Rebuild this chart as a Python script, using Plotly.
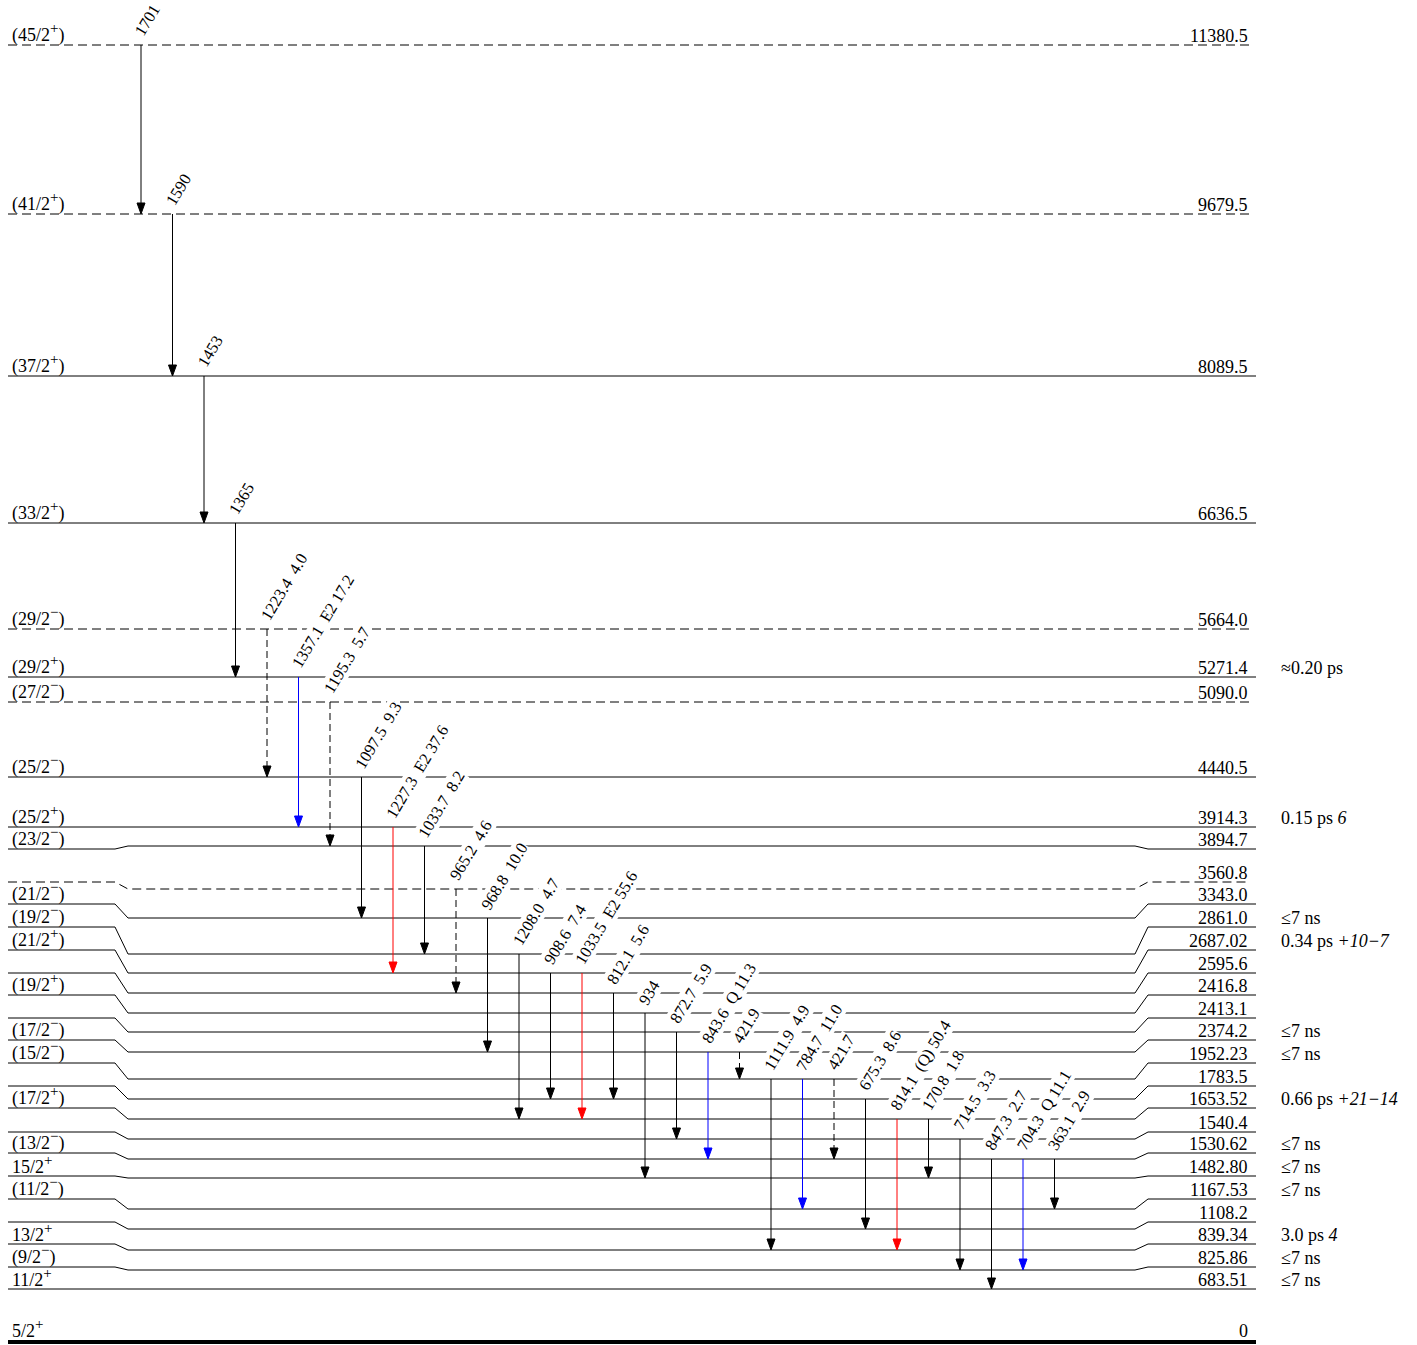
import plotly.graph_objects as go

# ---------------- data ----------------
level_energy = ["11380.5", "9679.5", "8089.5", "6636.5", "5664.0", "5271.4", "5090.0",
                "4440.5", "3914.3", "3894.7", "3560.8", "3343.0", "2861.0", "2687.02",
                "2595.6", "2416.8", "2413.1", "2374.2", "1952.23", "1783.5", "1653.52",
                "1540.4", "1530.62", "1482.80", "1167.53", "1108.2", "839.34", "825.86",
                "683.51", "0"]
level_spin = ["(45/2<sup>+</sup>)", "(41/2<sup>+</sup>)", "(37/2<sup>+</sup>)", "(33/2<sup>+</sup>)",
              "(29/2<sup>−</sup>)", "(29/2<sup>+</sup>)", "(27/2<sup>−</sup>)", "(25/2<sup>−</sup>)",
              "(25/2<sup>+</sup>)", "(23/2<sup>−</sup>)", "", "(21/2<sup>−</sup>)",
              "(19/2<sup>−</sup>)", "(21/2<sup>+</sup>)", "", "(19/2<sup>+</sup>)", "",
              "(17/2<sup>−</sup>)", "(15/2<sup>−</sup>)", "", "(17/2<sup>+</sup>)", "",
              "(13/2<sup>−</sup>)", "15/2<sup>+</sup>", "(11/2<sup>−</sup>)", "",
              "13/2<sup>+</sup>", "(9/2<sup>−</sup>)", "11/2<sup>+</sup>", "5/2<sup>+</sup>"]
level_halflife = ["", "", "", "", "", "≈0.20 ps", "", "", "0.15 ps <i>6</i>", "", "", "",
                  "≤7 ns", "0.34 ps <i>+10−7</i>", "", "", "", "≤7 ns", "≤7 ns", "",
                  "0.66 ps <i>+21−14</i>", "", "≤7 ns", "≤7 ns", "≤7 ns", "", "3.0 ps <i>4</i>",
                  "≤7 ns", "≤7 ns", ""]
level_tentative = ["11380.5", "9679.5", "5664.0", "5090.0", "3560.8"]

gamma_from = ["11380.5", "9679.5", "8089.5", "6636.5", "5664.0", "5271.4", "5090.0", "4440.5",
              "3914.3", "3894.7", "3560.8", "3343.0", "2861.0", "2687.02", "2687.02", "2595.6",
              "2416.8", "2413.1", "2374.2", "2374.2", "1952.23", "1952.23", "1952.23", "1783.5",
              "1653.52", "1653.52", "1540.4", "1530.62", "1530.62", "1530.62"]
gamma_to = ["9679.5", "8089.5", "6636.5", "5271.4", "4440.5", "3914.3", "3894.7", "3343.0",
            "2687.02", "2861.0", "2595.6", "2374.2", "1653.52", "1783.5", "1653.52", "1783.5",
            "1482.80", "1540.4", "1530.62", "1952.23", "839.34", "1167.53", "1530.62", "1108.2",
            "839.34", "1482.80", "825.86", "683.51", "825.86", "1167.53"]
gamma_label = ["1701", "1590", "1453", "1365", "1223.4  4.0", "1357.1  E2 17.2", "1195.3  5.7",
               "1097.5  9.3", "1227.3  E2 37.6", "1033.7  8.2", "965.2  4.6", "968.8  10.0",
               "1208.0  4.7", "908.6  7.4", "1033.5  E2 55.6", "812.1  5.6", "934",
               "872.7  5.9", "843.6  Q 11.3", "421.9", "1111.9  4.9", "784.7  11.0", "421.7",
               "675.3  8.6", "814.1  (Q) 50.4", "170.8  1.8", "714.5  3.3", "847.3  2.7",
               "704.3  Q 11.1", "363.1  2.9"]
gamma_tentative = [False, False, False, False, True, False, True, False, False, False, True,
                   False, False, False, False, False, False, False, False, True, False, False,
                   True, False, False, False, False, False, False, False]

# ---------------- layout / style (drawing positions, not data) ----------------
level_y_side = [45, 214, 376, 523, 629, 677, 702, 777, 827, 849, 882, 904, 927, 950, 973, 995,
                1018, 1040, 1063, 1086, 1108, 1132, 1153, 1176, 1199, 1222, 1244, 1267, 1289, 1342]
level_y_mid = [45, 214, 376, 523, 629, 677, 702, 777, 827, 846, 889, 918, 954, 973, 993, 1013,
               1032, 1052, 1079, 1099, 1119, 1139, 1159, 1178, 1209, 1229, 1250, 1270, 1289, 1342]
gamma_color = ["black"] * 30
for i in (5, 18, 21, 28):
    gamma_color[i] = "#0000ff"
for i in (8, 14, 24):
    gamma_color[i] = "#ff0000"

X0, K1A, K1B, K2A, K2B, X1 = 8, 115, 128, 1135, 1148, 1256
GX0, GDX = 141, 31.5
HEAD_L, HEAD_W = 11, 4
FONT = "Liberation Serif, Times New Roman, serif"
W, H = 1417, 1345


def big_sup(s):
    return s.replace("<sup>", "<sup><span style='font-size:15px'>").replace("</sup>", "</span></sup>")


fig = go.Figure()
ann = []

ypos = {e: (ys, ym) for e, ys, ym in zip(level_energy, level_y_side, level_y_mid)}

# levels
for e, sp, hl, ys, ym in zip(level_energy, level_spin, level_halflife, level_y_side, level_y_mid):
    dashed = e in level_tentative
    xe = X1 - 6 if dashed else X1
    if ys == ym:
        xs, yv = [X0, xe], [ys, ys]
    else:
        xs = [X0, K1A, K1B, K2A, K2B, xe]
        yv = [ys, ys, ym, ym, ys, ys]
    width = 4 if e == "0" else 1
    fig.add_trace(go.Scatter(x=xs, y=yv, mode="lines", hoverinfo="skip",
                             line=dict(color="black", width=width,
                                       dash="9px,5px" if dashed else "solid")))
    yl = ys - (2 if e == "0" else 0)
    if sp:
        ann.append(dict(x=10, y=yl, text=big_sup(sp), xanchor="left", yanchor="bottom", yshift=-3,
                        showarrow=False, font=dict(family=FONT, size=18, color="black")))
    ann.append(dict(x=1250, y=yl, text=e, xanchor="right", yanchor="bottom", yshift=-3,
                    showarrow=False, font=dict(family=FONT, size=18, color="black")))
    if hl:
        ann.append(dict(x=1279, y=yl, text=hl, xanchor="left", yanchor="bottom", yshift=-3,
                        showarrow=False, font=dict(family=FONT, size=18, color="black")))

# transitions
heads = {}
for i, (fe, te, lab, tent, col) in enumerate(zip(gamma_from, gamma_to, gamma_label,
                                                 gamma_tentative, gamma_color)):
    x = GX0 + GDX * i
    y1 = ypos[fe][1]
    y2 = ypos[te][1]
    fig.add_trace(go.Scatter(x=[x, x], y=[y1, y2 - HEAD_L + 1], mode="lines", hoverinfo="skip",
                             line=dict(color=col, width=1, dash="7px,4px" if tent else "solid")))
    hx, hy = heads.setdefault(col, ([], []))
    hx += [x - HEAD_W, x + HEAD_W, x, x - HEAD_W, None]
    hy += [y2 - HEAD_L, y2 - HEAD_L, y2, y2 - HEAD_L, None]
    ann.append(dict(x=x, y=y1, text=lab.replace("  ", "\u00a0\u00a0"), textangle=-59,
                    xanchor="left", yanchor="bottom", xshift=-12, yshift=4,
                    showarrow=False, bgcolor="white", borderpad=0,
                    font=dict(family=FONT, size=16.5, color="black")))

for col, (hx, hy) in heads.items():
    fig.add_trace(go.Scatter(x=hx, y=hy, mode="lines", fill="toself", fillcolor=col,
                             hoverinfo="skip", line=dict(color=col, width=1)))

fig.update_layout(
    width=W, height=H, margin=dict(l=0, r=0, t=0, b=0),
    plot_bgcolor="white", paper_bgcolor="white", showlegend=False,
    xaxis=dict(range=[0, W], visible=False, fixedrange=True),
    yaxis=dict(range=[H, 0], visible=False, fixedrange=True),
    annotations=ann,
)

fig.write_html("out.html", post_script="document.body.style.margin='0';",
               config={"displayModeBar": False})
